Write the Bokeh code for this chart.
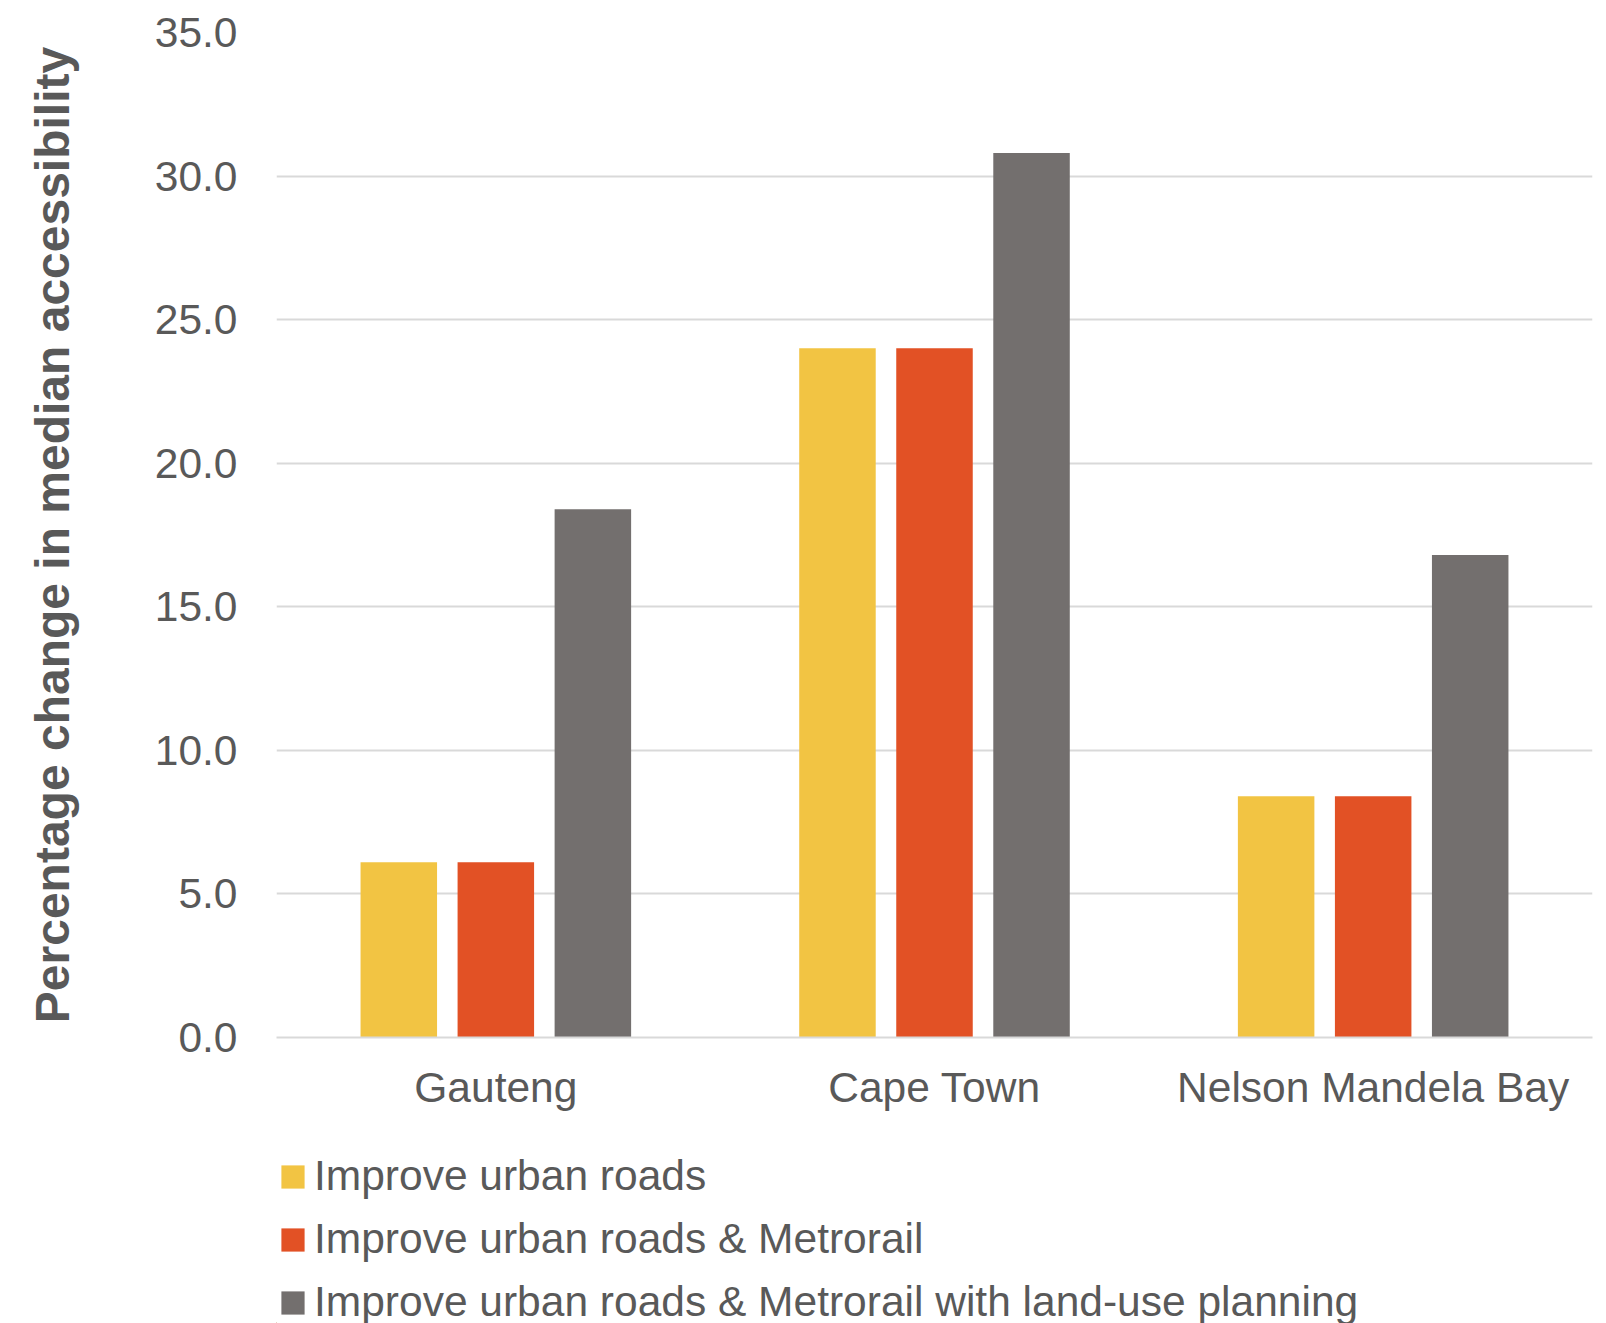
from bokeh.plotting import figure
from bokeh.layouts import column
from bokeh.models import (ColumnDataSource, FactorRange, Range1d, Legend, LegendItem,
                          NumeralTickFormatter, SingleIntervalTicker)
from bokeh.transform import dodge
from bokeh.embed import file_html
from bokeh.resources import INLINE

cities = ["Gauteng", "Cape Town", "Nelson Mandela Bay"]
roads = [6.1, 24.0, 8.4]
roads_metro = [6.1, 24.0, 8.4]
roads_metro_landuse = [18.4, 30.8, 16.8]

series_names = [
    "Improve urban roads",
    "Improve urban roads & Metrorail",
    "Improve urban roads & Metrorail with land-use planning",
]
series_cols = ["roads", "roads_metro", "roads_metro_landuse"]
colors = ["#F2C443", "#E25125", "#736F6E"]

source = ColumnDataSource(dict(
    city=cities,
    roads=roads,
    roads_metro=roads_metro,
    roads_metro_landuse=roads_metro_landuse,
))

TEXT = "#595959"
FONT = "Liberation Sans"
LABEL_SIZE = "42.5px"

p = figure(
    frame_width=1316, frame_height=1005,
    x_range=FactorRange(*cities, range_padding=0),
    y_range=Range1d(0, 35),
    output_backend="svg", toolbar_location=None,
    min_border_left=276, min_border_right=14,
    min_border_top=32, min_border_bottom=100,
)
p.outline_line_color = None
p.background_fill_color = "white"
p.border_fill_color = "white"

offsets = [-0.2212, 0.0, 0.2212]
for col, off, c in zip(series_cols, offsets, colors):
    p.vbar(x=dodge("city", off, range=p.x_range), top=col, width=0.1744,
           source=source, fill_color=c, line_color=None)

# y axis
p.yaxis.ticker = SingleIntervalTicker(interval=5)
p.yaxis.formatter = NumeralTickFormatter(format="0.0")
p.yaxis.axis_line_color = None
p.yaxis.major_tick_line_color = None
p.yaxis.minor_tick_line_color = None
p.yaxis.major_tick_in = 0
p.yaxis.major_tick_out = 0
p.yaxis.major_label_standoff = 35
p.yaxis.major_label_text_font = FONT
p.yaxis.major_label_text_font_size = LABEL_SIZE
p.yaxis.major_label_text_color = TEXT
p.yaxis.axis_label = "Percentage change in median accessibility"
p.yaxis.axis_label_text_font = FONT
p.yaxis.axis_label_text_font_size = "48px"
p.yaxis.axis_label_text_font_style = "bold"
p.yaxis.axis_label_text_color = TEXT
p.yaxis.axis_label_standoff = 73

# x axis
p.xaxis.axis_line_color = "#D9D9D9"
p.xaxis.axis_line_width = 2
p.xaxis.major_tick_line_color = None
p.xaxis.minor_tick_line_color = None
p.xaxis.major_tick_in = 0
p.xaxis.major_tick_out = 0
p.xaxis.major_label_standoff = 26
p.xaxis.major_label_text_font = FONT
p.xaxis.major_label_text_font_size = LABEL_SIZE
p.xaxis.major_label_text_color = TEXT

p.xgrid.grid_line_color = None
p.ygrid.grid_line_color = "#D9D9D9"
p.ygrid.grid_line_width = 2

# legend strip underneath the chart
leg_h = 186
pl = figure(
    frame_width=1606, frame_height=leg_h,
    x_range=Range1d(0, 1606), y_range=Range1d(0, leg_h),
    x_axis_location=None, y_axis_location=None,
    output_backend="svg", toolbar_location=None,
    min_border=0,
)
pl.outline_line_color = None
pl.xgrid.visible = False
pl.ygrid.visible = False
pl.background_fill_color = "white"
pl.border_fill_color = "white"

# swatch renderers live outside the visible range; only their legend glyphs show
swatches = []
for c in colors:
    swatches.append(pl.vbar(x=[-500], top=[1], width=1, fill_color=c, line_color=None))

legend = Legend(
    items=[LegendItem(label=n, renderers=[r]) for n, r in zip(series_names, swatches)],
    location=(278, -3),
    orientation="vertical",
    label_text_font=FONT,
    label_text_font_size=LABEL_SIZE,
    label_text_color=TEXT,
    glyph_width=29, glyph_height=29,
    label_standoff=7,
    spacing=15,
    padding=0,
    margin=0,
    border_line_color=None,
    background_fill_alpha=0,
)
pl.add_layout(legend, "center")

open("out.html", "w").write(file_html(column(p, pl, spacing=0), INLINE))
